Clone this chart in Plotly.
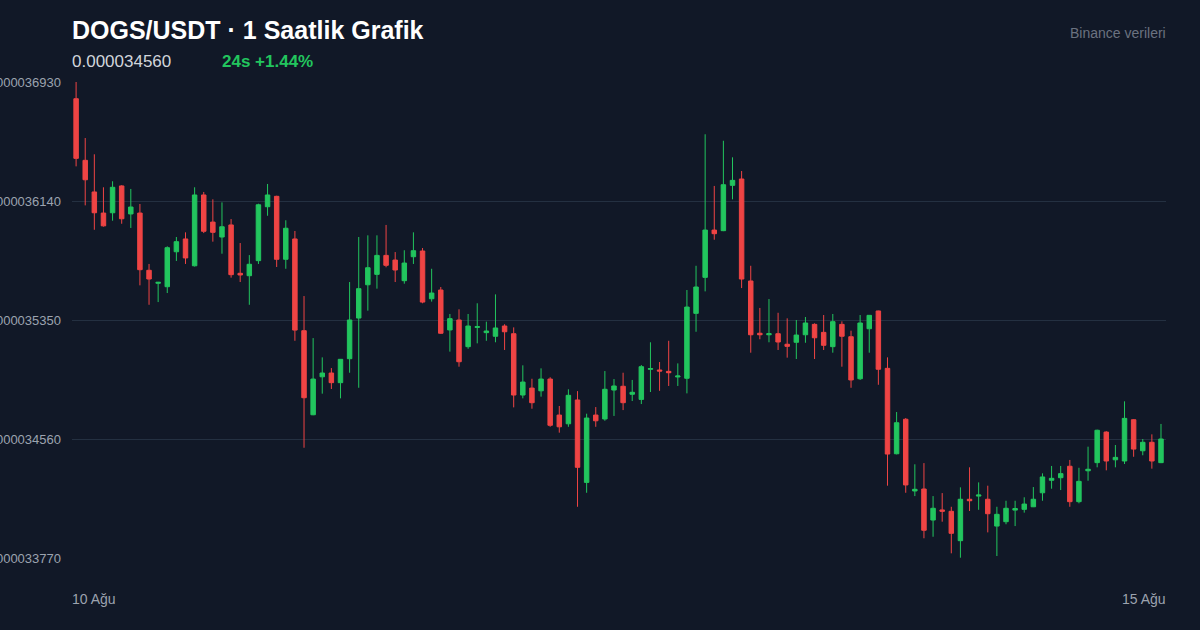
import plotly.graph_objects as go

# prices in units of 1e-9 USDT, hourly candles from 10 Aug
opens = [36819, 36410, 36200, 36060, 36062, 36240, 36054, 36060, 35680, 35594,
         35571, 35803, 35888, 35710, 36180, 36000, 35901, 35981, 35660, 35644,
         35744, 36102, 36171, 35753, 35888, 35279, 34721, 34973, 34998, 34934,
         35093, 35363, 35584, 35653, 35779, 35748, 35611, 35770, 35808, 35491,
         35549, 35284, 35350, 35173, 35301, 35266, 35242, 35310, 35259, 34852,
         34898, 34880, 34958, 34719, 34661, 34819, 34272, 34719, 34693, 34885,
         34910, 34857, 34823, 35023, 35018, 35009, 34972, 34963, 35394, 35633,
         35947, 35943, 36244, 36286, 35609, 35262, 35252, 35259, 35189, 35202,
         35252, 35321, 35268, 35173, 35321, 35239, 34960, 35292, 35410, 35029,
         34462, 34691, 34215, 34228, 34022, 34089, 34080, 33885, 34160, 34181,
         34160, 33982, 34011, 34088, 34093, 34110, 34203, 34286, 34303, 34379,
         34144, 34349, 34403, 34606, 34422, 34414, 34688, 34482, 34538, 34403]
highs = [36930, 36558, 36450, 36231, 36271, 36245, 36220, 36120, 35722, 35603,
         35839, 35901, 35932, 36231, 36200, 36151, 36131, 36020, 35861, 35781,
         36122, 36253, 36175, 36012, 35941, 35509, 35230, 35102, 35031, 35089,
         35602, 35901, 35912, 35912, 35981, 35801, 35813, 35932, 35828, 35690,
         35569, 35390, 35421, 35390, 35461, 35339, 35520, 35322, 35301, 35049,
         34960, 35029, 34970, 34779, 34890, 34878, 34728, 34772, 35011, 34958,
         35000, 34952, 35051, 35202, 35071, 35212, 35062, 35549, 35710, 36583,
         36240, 36540, 36430, 36339, 35710, 35430, 35489, 35398, 35361, 35350,
         35370, 35328, 35383, 35390, 35341, 35279, 35383, 35381, 35412, 35102,
         34739, 34699, 34392, 34400, 34181, 34201, 34110, 34239, 34372, 34272,
         34250, 34110, 34150, 34150, 34173, 34241, 34332, 34381, 34381, 34421,
         34369, 34509, 34622, 34612, 34520, 34810, 34692, 34560, 34591, 34660]
lows = [36370, 36111, 35949, 35970, 36009, 35989, 35961, 35580, 35451, 35469,
        35529, 35742, 35722, 35705, 35927, 35870, 35790, 35631, 35602, 35451,
        35722, 36042, 35702, 35690, 35212, 34502, 34718, 34861, 34892, 34830,
        35000, 34900, 35412, 35558, 35700, 35602, 35591, 35722, 35461, 35472,
        35258, 35140, 35040, 35159, 35195, 35212, 35202, 35151, 34770, 34830,
        34761, 34841, 34641, 34602, 34641, 34110, 34203, 34641, 34681, 34713,
        34752, 34812, 34792, 34872, 34880, 34912, 34912, 34863, 35272, 35540,
        35883, 35940, 36151, 35562, 35133, 35222, 35202, 35151, 35100, 35091,
        35199, 35091, 35151, 35133, 35040, 34900, 34952, 35133, 34920, 34250,
        34458, 34203, 34181, 33901, 33911, 34011, 33801, 33772, 34082, 34090,
        33940, 33783, 33994, 33982, 34071, 34108, 34150, 34230, 34221, 34110,
        34133, 34283, 34372, 34352, 34372, 34394, 34442, 34452, 34363, 34400]
closes = [36423, 36281, 36062, 35975, 36231, 36022, 36100, 35684, 35622, 35600,
          35830, 35870, 35762, 36180, 35939, 35932, 35969, 35651, 35649, 35720,
          36115, 36180, 35753, 35959, 35283, 34834, 34958, 34998, 34934, 35089,
          35350, 35558, 35697, 35779, 35713, 35682, 35728, 35810, 35469, 35529,
          35262, 35359, 35073, 35310, 35306, 35277, 35297, 35272, 34852, 34938,
          34801, 34958, 34651, 34641, 34850, 34372, 34699, 34681, 34890, 34912,
          34801, 34870, 35040, 35027, 35011, 35000, 34978, 35436, 35569, 35947,
          35923, 36248, 36277, 35622, 35252, 35252, 35259, 35204, 35175, 35250,
          35330, 35232, 35182, 35339, 35242, 34952, 35330, 35381, 35023, 34460,
          34668, 34255, 34226, 33954, 34100, 34080, 33934, 34160, 34150, 34188,
          34064, 34060, 34100, 34098, 34128, 34160, 34308, 34299, 34330, 34144,
          34279, 34359, 34618, 34414, 34438, 34697, 34493, 34538, 34414, 34560]

y_ticks = [36930, 36140, 35350, 34560, 33770]
x_labels = ["10 Ağu", "15 Ağu"]
title = "DOGS/USDT · 1 Saatlik Grafik"
last_price = "0.000034560"
change = "24s +1.44%"

S = 1e-9
idx = list(range(len(opens)))

fig = go.Figure(go.Candlestick(
    x=idx,
    open=[v * S for v in opens], high=[v * S for v in highs],
    low=[v * S for v in lows], close=[v * S for v in closes],
    increasing=dict(line=dict(color="#22c55e", width=1), fillcolor="#22c55e"),
    decreasing=dict(line=dict(color="#ef4444", width=1), fillcolor="#ef4444"),
    whiskerwidth=0, hoverinfo="skip",
))

fig.update_layout(
    width=1200, height=630,
    paper_bgcolor="#111827", plot_bgcolor="#111827",
    margin=dict(l=72, r=34, t=82, b=72, autoexpand=False),
    showlegend=False,
    font=dict(family="Liberation Sans, Arial, sans-serif", color="#9ca3af"),
    xaxis=dict(range=[-0.45, len(opens) - 0.45], showgrid=False, showticklabels=False,
               zeroline=False, rangeslider=dict(visible=False), fixedrange=True),
    yaxis=dict(range=[y_ticks[-1] * S, y_ticks[0] * S],
               tickvals=[v * S for v in y_ticks],
               ticktext=[f"{v * S:.9f}" for v in y_ticks],
               gridcolor="#243041", gridwidth=1, zeroline=False,
               tickfont=dict(size=13, color="#9ca3af"), ticklabelstandoff=10,
               automargin=False),
    annotations=[
        dict(text=f"<b>{title}</b>", xref="paper", yref="paper", x=0, y=1,
             xshift=-2, yshift=52, xanchor="left", yanchor="middle", showarrow=False,
             font=dict(size=25, color="#ffffff")),
        dict(text=last_price, xref="paper", yref="paper", x=0, y=1, xshift=-2, yshift=21,
             xanchor="left", yanchor="middle", showarrow=False,
             font=dict(size=17, color="#d1d5db")),
        dict(text=f"<b>{change}</b>", xref="paper", yref="paper", x=0, y=1,
             xshift=148, yshift=21, xanchor="left", yanchor="middle", showarrow=False,
             font=dict(size=17, color="#22c55e")),
        dict(text="Binance verileri", xref="paper", yref="paper", x=1, y=1,
             xshift=2, yshift=49, xanchor="right", yanchor="middle", showarrow=False,
             font=dict(size=14, color="#6b7280")),
        dict(text=x_labels[0], xref="paper", yref="paper", x=0, y=0, xshift=-2, yshift=-41,
             xanchor="left", yanchor="middle", showarrow=False,
             font=dict(size=14, color="#9ca3af")),
        dict(text=x_labels[1], xref="paper", yref="paper", x=1, y=0, xshift=2, yshift=-41,
             xanchor="right", yanchor="middle", showarrow=False,
             font=dict(size=14, color="#9ca3af")),
    ],
)

fig.write_html("out.html", config={"displayModeBar": False},
               post_script="document.body.style.margin='0';document.body.style.background='#111827';")
